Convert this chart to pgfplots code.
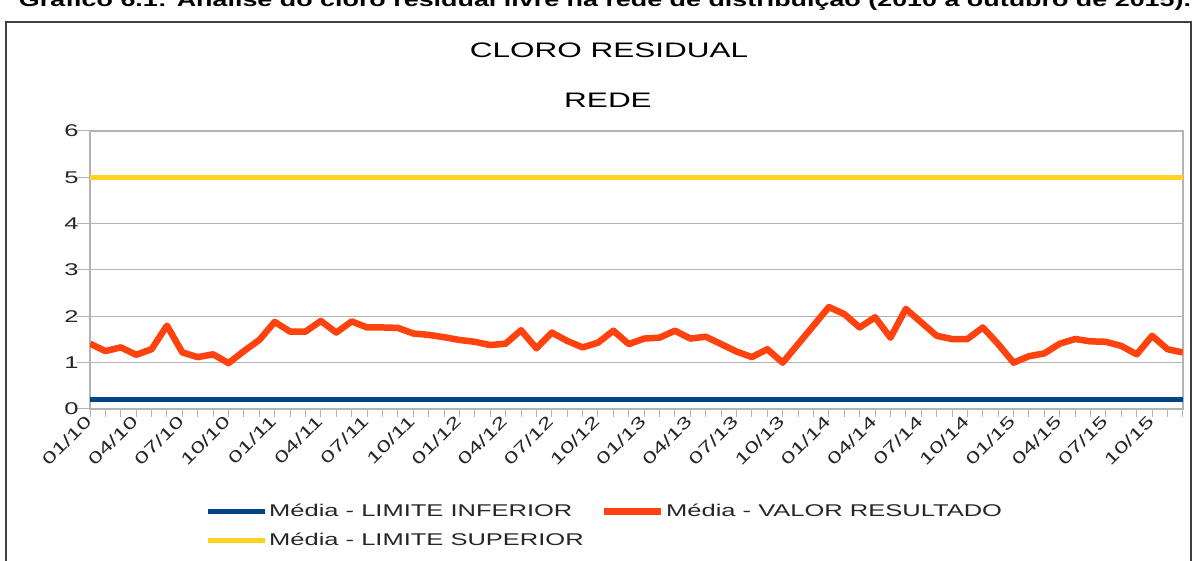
\documentclass[border=0pt]{standalone}
\usepackage{fontspec}
\setmainfont{Liberation Sans}[FakeStretch=1.5]
\newfontfamily\plainfont{Liberation Sans}
\usepackage{graphicx}
\usepackage{pgfplots}
\pgfplotsset{compat=1.18}
\definecolor{cblue}{HTML}{004586}
\definecolor{corange}{HTML}{FF420E}
\definecolor{cyellow}{HTML}{FFD320}
\definecolor{cgrid}{HTML}{B3B3B3}
\pgfplotstableread{
m v
0 1.41
1 1.25
2 1.33
3 1.17
4 1.29
5 1.80
6 1.22
7 1.12
8 1.18
9 0.99
10 1.25
11 1.49
12 1.88
13 1.67
14 1.67
15 1.90
16 1.65
17 1.89
18 1.76
19 1.76
20 1.75
21 1.63
22 1.60
23 1.55
24 1.49
25 1.45
26 1.38
27 1.41
28 1.70
29 1.31
30 1.65
31 1.47
32 1.33
33 1.43
34 1.69
35 1.40
36 1.52
37 1.54
38 1.69
39 1.52
40 1.56
41 1.40
42 1.24
43 1.12
44 1.29
45 1.00
46 1.40
47 1.80
48 2.20
49 2.05
50 1.76
51 1.98
52 1.54
53 2.16
54 1.87
55 1.58
56 1.51
57 1.51
58 1.76
59 1.40
60 1.00
61 1.14
62 1.20
63 1.41
64 1.51
65 1.46
66 1.45
67 1.36
68 1.18
69 1.58
70 1.29
71 1.22
}\valor
\begin{document}
\begin{tikzpicture}[x=1pt,y=1pt]
\useasboundingbox (0,0) rectangle (1196,561);
\draw[line width=1.5pt, black!75] (6,539) rectangle (1191,-30);
\node[anchor=base, inner sep=0pt, font=\plainfont\bfseries\fontsize{19}{22}\selectfont] at (605,554.5)
  {\resizebox{1172pt}{\height}{Gráfico 6.1: Análise do cloro residual livre na rede de distribuição (2010 a outubro de 2015).}};
\node[anchor=base, inner sep=0pt, font=\fontsize{21}{25}\selectfont] at (609,503) {CLORO RESIDUAL};
\node[anchor=base, inner sep=0pt, font=\fontsize{21}{25}\selectfont] at (608,453) {REDE};
\begin{axis}[
  scale only axis, width=1093pt, height=278pt,
  at={(90pt,152pt)}, anchor=south west,
  xmin=0, xmax=71, ymin=0, ymax=6,
  ytick={0,1,2,3,4,5,6},
  xtick={0,3,...,69},
  minor xtick={0,1,...,71},
  xticklabels={01/10,04/10,07/10,10/10,01/11,04/11,07/11,10/11,01/12,04/12,07/12,10/12,01/13,04/13,07/13,10/13,01/14,04/14,07/14,10/14,01/15,04/15,07/15,10/15},
  ymajorgrids,
  major grid style={draw=cgrid, line width=1pt},
  axis line style={draw=cgrid, line width=1.2pt},
  tick align=outside, tick pos=left,
  major tick length=8pt, minor tick length=8pt,
  ytick style={/pgfplots/major tick length=13pt},
  tick style={draw=cgrid, line width=1pt},
  /pgf/number format/assume math mode=true,
  yticklabel style={font=\fontsize{17}{19}\selectfont, text=black!85},
  xticklabel style={font=\fontsize{16.5}{18}\selectfont, text=black!85, rotate=45, anchor=east, inner sep=2pt},
  legend columns=2,
  legend cell align=left,
  legend style={draw=none, fill=none, at={(axis description cs:0.1052,-0.335)}, anchor=north west,
    font=\fontsize{17}{20}\selectfont, text=black!85, row sep=11pt, inner sep=0pt,
    /tikz/every even column/.append style={column sep=15pt}},
  legend image code/.code={\draw[#1, line cap=butt] (0pt,0pt) -- (57pt,0pt);},
  clip=true,
]
\addplot[color=cblue, line width=5pt] coordinates {(0,0.2) (71,0.2)};
\addlegendentry{Média - LIMITE INFERIOR}
\addplot[color=corange, line width=6.5pt, line join=round] table[x=m, y=v] {\valor};
\addlegendentry{Média - VALOR RESULTADO}
\addplot[color=cyellow, line width=5pt] coordinates {(0,5) (71,5)};
\addlegendentry{Média - LIMITE SUPERIOR}
\end{axis}
\end{tikzpicture}
\end{document}
